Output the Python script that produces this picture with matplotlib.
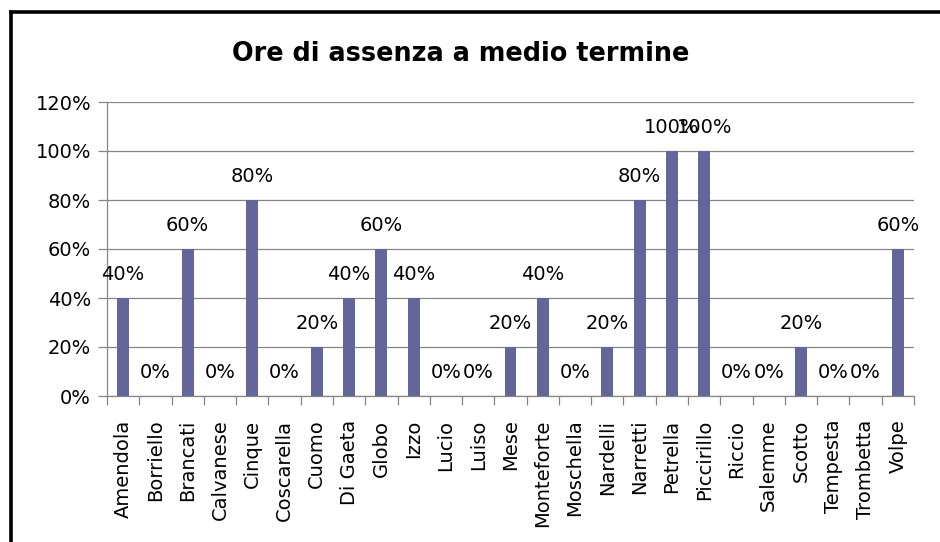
import matplotlib
matplotlib.use("Agg")
import matplotlib.pyplot as plt
from matplotlib.lines import Line2D
from matplotlib.ticker import FixedLocator, PercentFormatter
import numpy as np

names = [
    "Amendola", "Borriello", "Brancati", "Calvanese", "Cinque", "Coscarella",
    "Cuomo", "Di Gaeta", "Globo", "Izzo", "Lucio", "Luiso", "Mese",
    "Monteforte", "Moschella", "Nardelli", "Narretti", "Petrella",
    "Piccirillo", "Riccio", "Salemme", "Scotto", "Tempesta", "Trombetta",
    "Volpe",
]
absence_pct = [40, 0, 60, 0, 80, 0, 20, 40, 60, 40, 0, 0, 20, 40, 0, 20,
               80, 100, 100, 0, 0, 20, 0, 0, 60]
y_ticks = [0, 20, 40, 60, 80, 100, 120]

bar_color = "#646598"
grid_color = "#868686"

W, H = 940, 542
fig = plt.figure(figsize=(W / 100, H / 100), dpi=100)
ax = fig.add_axes([107 / W, 1 - 396 / H, (914 - 107) / W, (396 - 102) / H])

x = np.arange(len(names))
bars = ax.bar(x, absence_pct, width=0.37, color=bar_color, zorder=3)

for xi, v in zip(x, absence_pct):
    ax.annotate(f"{v}%", xy=(xi, v), xytext=(0, 13), textcoords="offset points",
                ha="center", va="baseline", fontsize=14, color="black", zorder=4)

ax.set_xlim(-0.5, len(names) - 0.5)
ax.set_ylim(0, 120)
ax.yaxis.set_major_locator(FixedLocator(y_ticks))
ax.yaxis.set_major_formatter(PercentFormatter(decimals=0))
ax.grid(axis="y", color=grid_color, linewidth=0.9, zorder=0)

# x: ticks on category boundaries, labels at category centres
ax.xaxis.set_major_locator(FixedLocator(np.arange(-0.5, len(names), 1.0)))
ax.xaxis.set_major_formatter(plt.NullFormatter())
ax.xaxis.set_minor_locator(FixedLocator(x))
ax.set_xticks(x, names, minor=True, rotation=90, fontsize=14)
ax.tick_params(axis="x", which="major", length=6.5, width=0.9, color=grid_color, direction="out")
ax.tick_params(axis="x", which="minor", length=0, pad=17)
ax.tick_params(axis="y", length=6.5, width=0.9, color=grid_color, pad=5, labelsize=14)
for lab in ax.get_xticklabels(minor=True):
    lab.set_va("top")

for side in ["top", "right"]:
    ax.spines[side].set_visible(False)
for side in ["left", "bottom"]:
    ax.spines[side].set_color(grid_color)
    ax.spines[side].set_linewidth(0.9)

fig.text(461 / W, 1 - 54 / H, "Ore di assenza a medio termine", ha="center", va="center",
         fontsize=18.4, fontweight="bold")

# chart area frame, cropped at right and bottom
bx, by = 10.7 / W, 1 - 11.5 / H
fig.add_artist(Line2D([bx, bx], [0, by], color="black", linewidth=2.6, transform=fig.transFigure))
fig.add_artist(Line2D([bx, 1], [by, by], color="black", linewidth=2.6, transform=fig.transFigure))

fig.savefig("out.png", dpi=100)
